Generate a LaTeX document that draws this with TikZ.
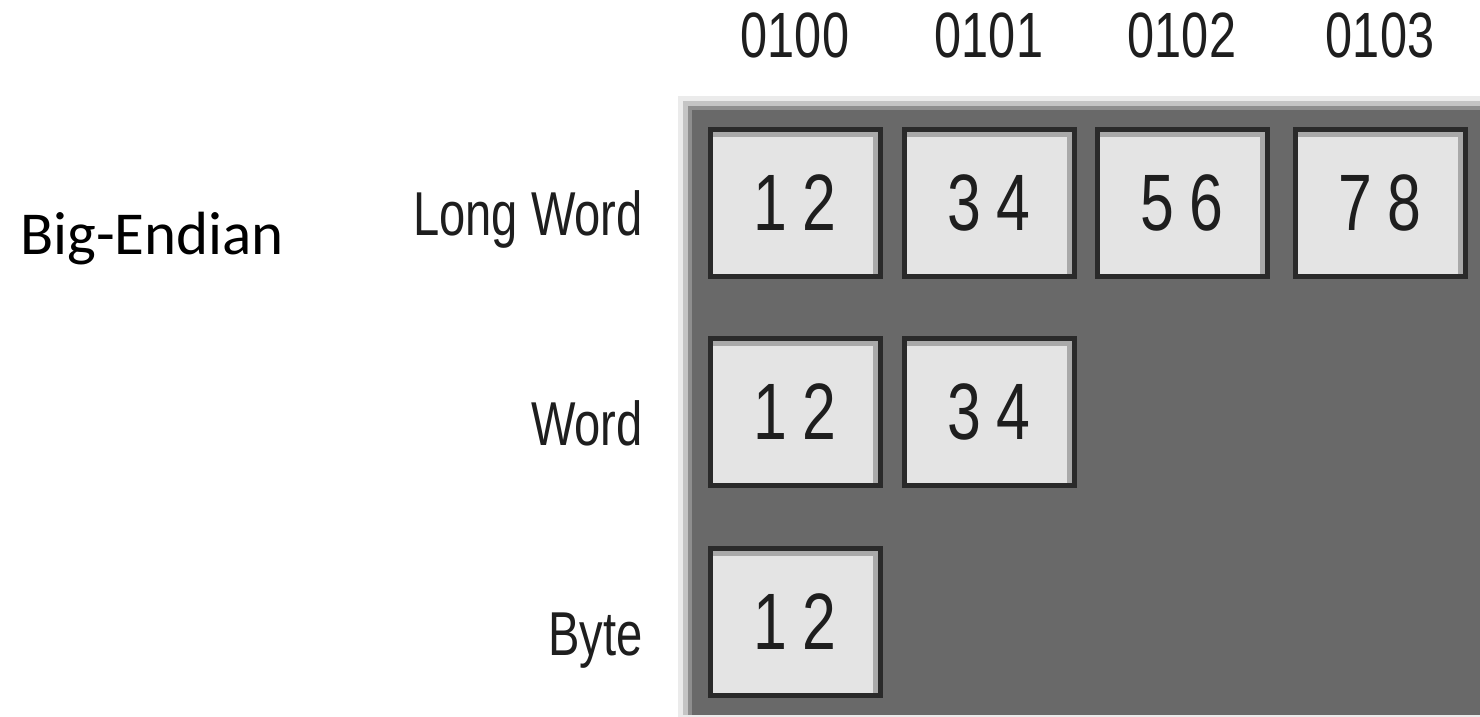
\documentclass[tikz,border=0pt]{standalone}
\usepackage{fontspec}
\newfontfamily\condfont[FakeStretch=0.76]{Liberation Sans}
\newfontfamily\calfont{Carlito}
\definecolor{bevA}{HTML}{EBEBEB}
\definecolor{bevB}{HTML}{C4C4C4}
\definecolor{bevC}{HTML}{8E8E8E}
\definecolor{panel}{HTML}{696969}
\definecolor{cellFill}{HTML}{E4E4E4}
\definecolor{cellEdge}{HTML}{2A2A2A}
\definecolor{cellHi}{HTML}{A9A9A9}
\definecolor{labelInk}{HTML}{1E1E1E}
\tikzset{
  cell/.style={draw=cellEdge, line width=5pt, fill=cellFill,
    minimum width=170pt, minimum height=147pt, inner sep=0pt,
    text=labelInk, font=\condfont\fontsize{80}{80}\selectfont,
    path picture={
      \fill[cellHi] ([xshift=2.5pt,yshift=-2.5pt]path picture bounding box.north west)
        rectangle ([xshift=-2.5pt,yshift=-7.5pt]path picture bounding box.north east);
      \fill[cellHi] ([xshift=-7.5pt,yshift=-2.5pt]path picture bounding box.north east)
        rectangle ([xshift=-2.5pt,yshift=2.5pt]path picture bounding box.south east);
    }},
  rowlabel/.style={anchor=base east, inner sep=0pt, text=labelInk,
    font=\condfont\fontsize{62}{62}\selectfont},
  collabel/.style={anchor=base, inner sep=0pt, text=labelInk,
    font=\condfont\fontsize{64}{64}\selectfont},
  title/.style={anchor=base west, inner sep=0pt, text=black,
    font=\calfont\fontsize{61}{61}\selectfont}
}
\begin{document}
\begin{tikzpicture}[x=1pt,y=-1pt]
\useasboundingbox (0,0) rectangle (1480,717);
% bevelled panel
\fill[bevA] (678,96) rectangle (1480,717);
\fill[bevB] (683,101) rectangle (1480,715);
\fill[bevC] (688,106) rectangle (1480,715);
\fill[panel] (692,110) rectangle (1480,715);
% title
\node[title] (title) at (20,254) {Big-Endian};
% column labels
\node[collabel] (c0) at (795,58) {0100};
\node[collabel] (c1) at (989,58) {0101};
\node[collabel] (c2) at (1182,58) {0102};
\node[collabel] (c3) at (1380,58) {0103};
% row labels
\node[rowlabel] (rl) at (643,235) {Long Word};
\node[rowlabel] (rw) at (643,445) {Word};
\node[rowlabel] (rb) at (643,655) {Byte};
% cells
\node[cell] (l0) at (795,203) {1\hspace{16pt}2};
\node[cell] (l1) at (989,203) {3\hspace{16pt}4};
\node[cell] (l2) at (1182,203) {5\hspace{16pt}6};
\node[cell] (l3) at (1380,203) {7\hspace{16pt}8};
\node[cell] (w0) at (795,412) {1\hspace{16pt}2};
\node[cell] (w1) at (989,412) {3\hspace{16pt}4};
\node[cell] (b0) at (795,622) {1\hspace{16pt}2};
\end{tikzpicture}
\end{document}
